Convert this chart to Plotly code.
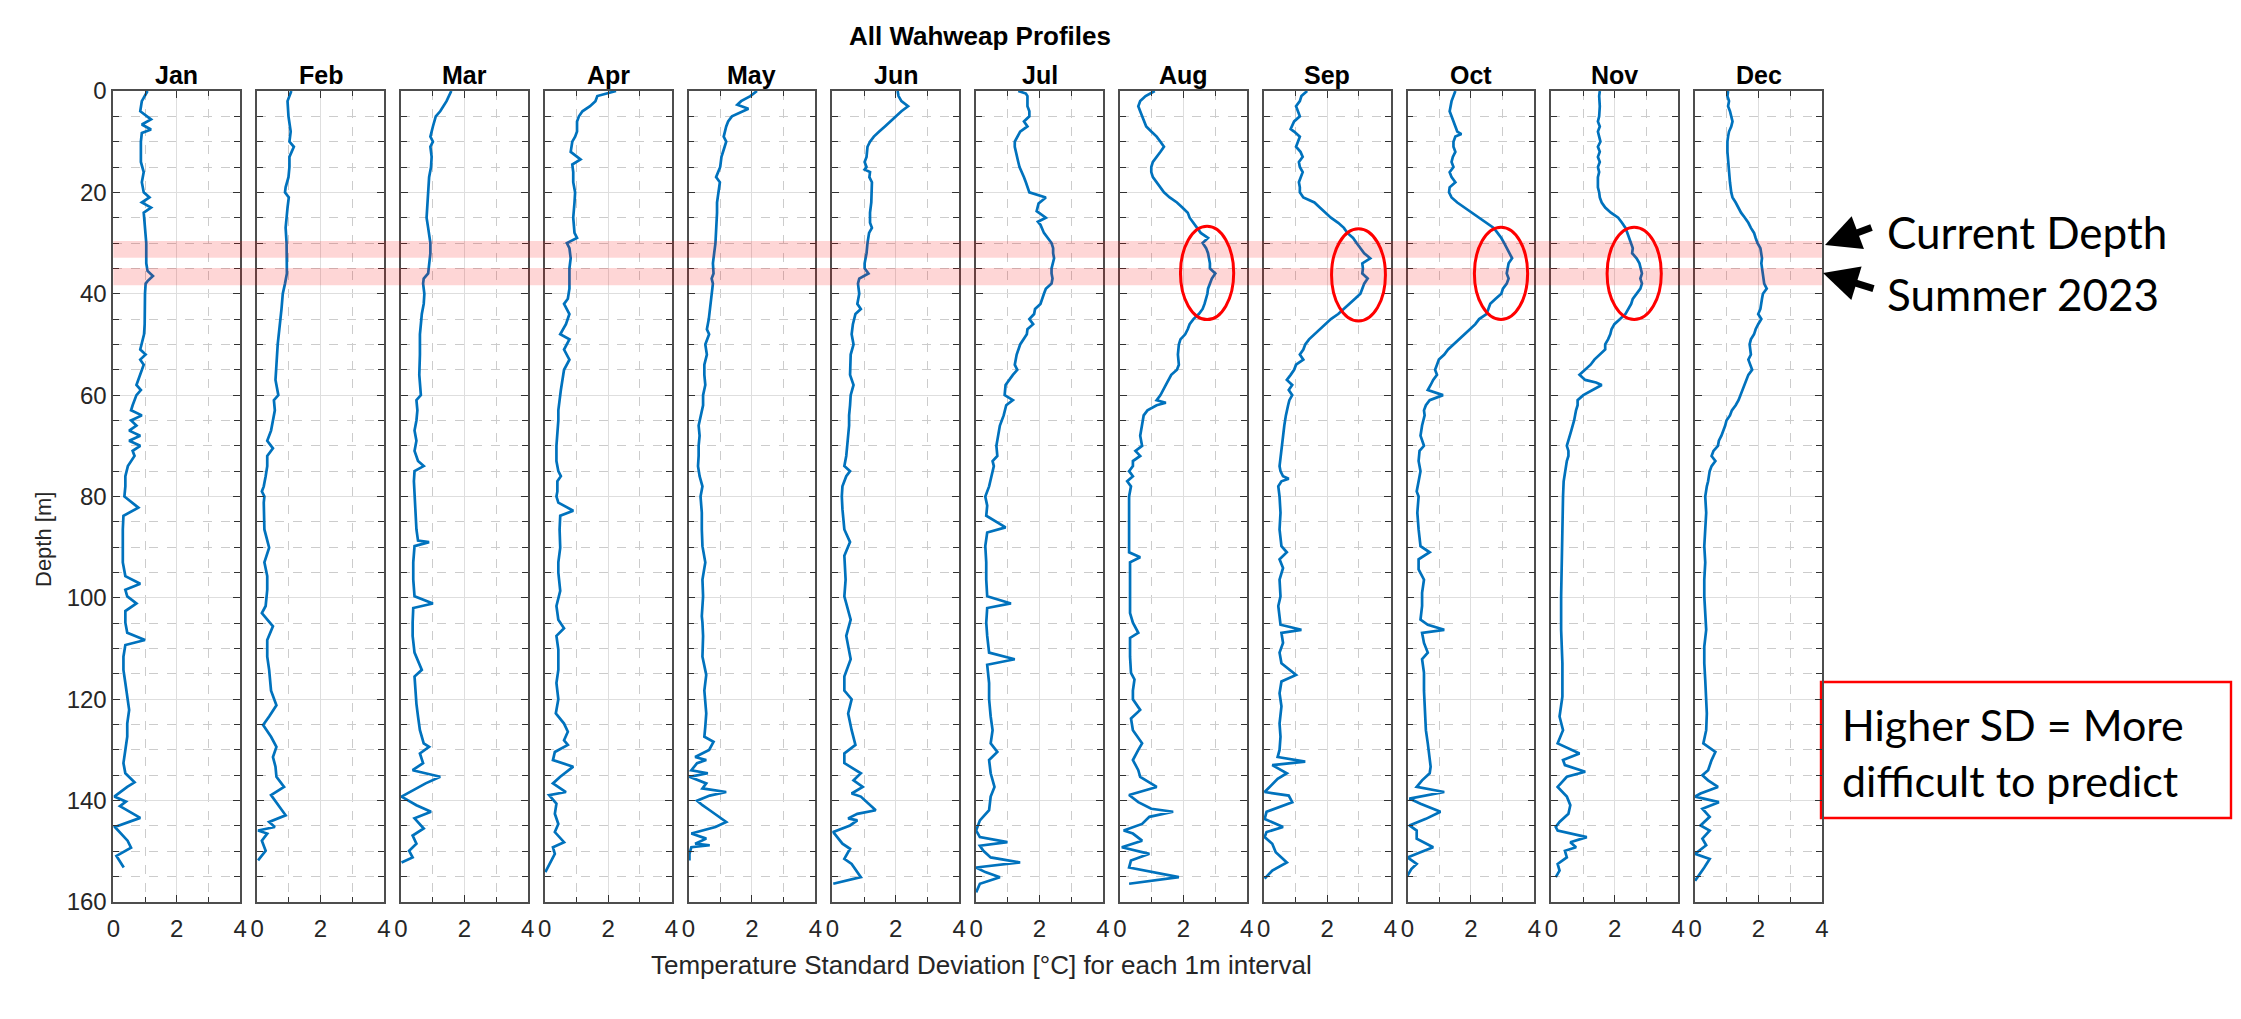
import plotly.graph_objects as go

# ---------------- data (depth in m, temperature SD in degC) ----------------
MONTHS = ["Jan", "Feb", "Mar", "Apr", "May", "Jun", "Jul", "Aug", "Sep", "Oct", "Nov", "Dec"]

JAN_DEPTH = [0,2,4,5.6,6.6,7.6,8.3,10,12,14,16,18,20,21,22,23,24,26,28,30,32,34,35.5,36.5,37.5,38,40,42,44,46,48,50,51,52,53,54,56,58,59,60,62,63,64,65,66,67,68,69,70,71,72,74,76,78,80,82.2,83.8,86.5,89.8,93,95.7,97.2,98.4,99.7,101.1,102.6,104.9,106.9,108.3,109.3,111.6,114.2,116.8,119.5,122.1,124.8,127.4,130,132.6,134.6,136.4,137.3,139.2,140.2,141.1,143.4,145.2,147.9,149.3,150.9,153.2]
JAN_SD = [1.08,0.90,0.85,1.19,0.90,1.19,0.90,0.87,0.87,0.87,0.96,0.90,0.96,1.14,0.90,1.19,0.96,0.99,1.00,1.04,1.04,1.04,1.08,1.25,1.08,1.02,1.00,1.00,1.00,0.99,0.97,0.90,0.85,1.02,0.85,0.96,0.85,0.73,0.87,0.73,0.61,0.56,0.90,0.56,0.73,0.50,0.85,0.50,0.85,0.61,0.67,0.46,0.38,0.38,0.35,0.79,0.32,0.30,0.30,0.30,0.38,0.85,0.38,0.44,0.73,0.38,0.38,0.44,1.00,0.38,0.32,0.32,0.38,0.44,0.50,0.44,0.44,0.38,0.32,0.38,0.67,0.44,0.03,0.40,0.21,0.85,0.05,0.45,0.56,0.10,0.33]

FEB_DEPTH = [0,2,5,8,10,11,13,15,17,19,20,21,23,25,27,30,33,36,38,40,43,46,50,54,57,60,61,63,65,67,69,70.5,72,74,76,78,79,80,81.2,83.8,86.5,90.1,93,95.7,98.4,101.6,103,105.6,108.3,111.6,114.2,118.3,121.2,123.4,125.1,127.4,129.4,131.4,133.3,135.3,137.3,138.9,140.9,142.9,144.2,145.2,145.9,146.5,147.9,149.9,151.8]
FEB_SD = [1.08,0.96,0.99,1.06,1.02,1.16,1.02,1.02,0.99,0.90,0.88,1.00,0.96,0.94,0.90,0.93,0.93,0.94,0.88,0.81,0.77,0.71,0.65,0.61,0.58,0.67,0.53,0.56,0.50,0.44,0.32,0.50,0.32,0.32,0.27,0.21,0.15,0.23,0.21,0.23,0.23,0.38,0.23,0.32,0.32,0.27,0.15,0.50,0.32,0.32,0.38,0.44,0.61,0.38,0.19,0.44,0.61,0.50,0.58,0.61,0.85,0.44,0.67,0.90,0.38,0.56,0.03,0.32,0.15,0.27,0.03]

MAR_DEPTH = [0,2,4,5,7,9,10,11,13,15,17,19,21,23,25,27,30,32,34,36,37,38,40,42,44,46,48,52,56,60,61,63,65,67,69,71,73,74,75,77,80,83.2,86.5,88.7,89,89.8,93,96.4,99.7,101.1,102,104.9,107.5,110.8,114.2,115.5,118.3,120.9,123.4,126.1,128.7,129.4,130.7,132.6,134,135.3,136.6,139.2,140.9,142.2,143.5,145.5,146.9,148.5,149.9,151.2,152.2]
MAR_SD = [1.59,1.44,1.24,1.10,1.01,0.93,1.01,0.93,0.97,0.95,0.89,0.87,0.83,0.81,0.81,0.86,0.93,0.93,0.89,0.86,0.72,0.70,0.74,0.72,0.66,0.63,0.60,0.60,0.58,0.63,0.49,0.52,0.49,0.43,0.49,0.43,0.54,0.72,0.43,0.41,0.43,0.46,0.49,0.54,0.89,0.43,0.39,0.39,0.43,1.01,0.39,0.37,0.37,0.43,0.66,0.43,0.46,0.49,0.54,0.60,0.72,0.89,0.60,0.70,0.37,1.24,0.78,0.02,0.49,0.95,0.43,0.72,0.37,0.49,0.26,0.37,0.02]

APR_DEPTH = [0,0.5,1,2,3,4,5,6,8,9,10,12,13.5,14.5,16,18,20,22,25,28,29,30,31,33,35,37,39,41,42,44,46,48,49,51,53,55,57,59,61,63,65,67,70,73,75,76,77,79,80,81.2,82.8,83.8,86.5,90.1,93,95,98.6,101.6,104.3,106,107.5,110.2,114.2,116.8,120,122.8,124.8,126.4,128.1,129,130.4,132,133.3,135.3,136.6,138.3,138.9,140.6,142.6,144.6,146.2,148.2,149.2,150.5,152.5,154.1]
APR_SD = [2.25,1.95,1.66,1.60,1.43,1.19,1.08,1.02,1.02,0.96,0.87,0.82,1.13,0.87,0.90,0.90,0.96,0.94,0.90,0.94,1.02,0.70,0.78,0.82,0.78,0.78,0.78,0.73,0.61,0.78,0.67,0.49,0.78,0.61,0.78,0.61,0.55,0.51,0.47,0.43,0.43,0.40,0.37,0.37,0.43,0.51,0.40,0.40,0.37,0.43,0.90,0.49,0.47,0.49,0.43,0.43,0.49,0.37,0.43,0.61,0.37,0.43,0.43,0.37,0.43,0.35,0.61,0.73,0.61,0.73,0.32,0.26,0.90,0.49,0.26,0.67,0.14,0.37,0.32,0.43,0.32,0.61,0.26,0.32,0.14,0.02]

MAY_DEPTH = [0,1,2,2.7,3.5,4.2,5,6,7,9,10,11,13,15,17,18,20,22,24,26,28,30,32,34,36,37,38,40,42,44,45,47,48,50,52,54,56,58,60,62,64,66,68,70,72,74,76,78,80,83.2,86.5,89.8,93,96.4,99.7,103.6,104.9,107.5,111.6,115.2,118.3,120,122.8,125.4,127.4,128.4,130,131.4,132,132.6,134,134.6,135.3,136.6,137.6,138.3,139,140,140.9,141.9,144.2,145.2,146.5,147.5,148.5,148.8,149.2,150.5,151.8]
MAY_SD = [2.16,1.95,1.66,1.54,1.89,1.66,1.37,1.25,1.19,1.11,1.19,1.14,1.04,1.00,0.87,0.99,0.94,0.90,0.90,0.88,0.88,0.85,0.81,0.77,0.79,0.73,0.77,0.73,0.70,0.67,0.64,0.58,0.65,0.53,0.58,0.50,0.50,0.53,0.46,0.46,0.38,0.32,0.35,0.32,0.32,0.30,0.35,0.44,0.38,0.42,0.42,0.44,0.53,0.44,0.46,0.42,0.44,0.46,0.44,0.56,0.50,0.52,0.56,0.53,0.50,0.79,0.65,0.21,0.56,0.27,0.09,0.61,0.03,0.56,0.44,1.19,0.67,0.27,0.44,0.67,1.19,0.85,0.09,0.56,0.21,0.67,0.09,0.03,0.03]

JUN_DEPTH = [0,1,2,3,4,5,6,7,8,9,10,11,13,14,15,15.5,16,17,18,20,22,24,26,27,28,30,32,34,35,36,37,38,40,42,43,44,46,48,50,52,54,56,58,60,62,64,66,68,70,72,74,75,76,78,80,82.5,86.5,89,91.7,96.4,99.7,104.3,107.5,112.1,115.5,118.3,120,122.8,126.1,129,130.7,132.6,134.6,136,137.3,138.6,139.2,141.9,142.6,143.5,143.9,144.9,146.2,148.5,149.5,151.5,152.5,155.1,156.4]
JUN_SD = [2.06,2.09,2.18,2.39,2.18,2.01,1.86,1.66,1.48,1.31,1.19,1.11,1.08,1.02,1.08,1.02,1.19,1.17,1.25,1.25,1.23,1.19,1.19,1.25,1.16,1.11,1.08,1.02,1.02,1.14,0.85,0.81,0.85,0.79,0.90,0.73,0.65,0.61,0.67,0.58,0.58,0.56,0.67,0.58,0.56,0.53,0.53,0.50,0.46,0.44,0.38,0.56,0.44,0.32,0.30,0.32,0.38,0.56,0.38,0.42,0.38,0.58,0.44,0.58,0.38,0.38,0.61,0.50,0.61,0.73,0.38,0.38,0.90,0.67,0.96,0.61,0.90,1.37,0.79,0.50,0.79,0.56,0.03,0.32,0.56,0.38,0.61,0.90,0.03]

JUL_DEPTH = [0,0.5,1,3,4,5,6,7,8,9,10,11,12,13,14,15,16,17,18,19,20,21,22.2,23.7,25,25.8,26.4,28,29,30,31,32,33,35,36,37,38,39,40,42,43,44,45,46,47,48,50,52,54,55,56,58,60,61,62,64,66,68,70,72,73,74,76,78,80,81.8,83.8,86.1,87.1,89.8,93,96.4,99.7,101.1,102,104.9,107.5,110.8,112.1,113.2,116.8,120,123.4,126.1,128.7,130.4,132,134.6,137.3,139.2,141.9,143.9,145.9,147.2,148.2,148.9,149.9,151.2,152.2,153.2,154.1,155.1,156.4,158.1]
JUL_SD = [1.33,1.57,1.62,1.62,1.68,1.68,1.51,1.62,1.39,1.30,1.22,1.22,1.25,1.30,1.33,1.37,1.45,1.51,1.57,1.62,1.68,2.20,1.97,1.91,2.20,1.95,2.03,2.14,2.26,2.38,2.43,2.43,2.46,2.38,2.38,2.41,2.38,2.20,2.14,2.03,1.86,1.83,1.68,1.80,1.62,1.60,1.39,1.28,1.22,1.30,1.16,0.93,0.90,1.16,0.95,0.87,0.75,0.70,0.64,0.67,0.52,0.56,0.49,0.41,0.29,0.35,0.32,0.93,0.35,0.29,0.32,0.32,0.35,1.10,0.35,0.32,0.35,0.41,1.22,0.35,0.41,0.41,0.46,0.52,0.46,0.67,0.41,0.46,0.58,0.46,0.41,0.12,0.00,0.12,0.99,0.12,0.23,0.46,1.39,0.00,0.29,0.75,0.12,0.00]

AUG_DEPTH = [0,1,2,3,4,5,6,7,8,9,10,11,12,13,14,15,16,17,18,19,20,21,22,23,24,25,26,27,28,29,30,31,32,33,34,35,36,37,38,39,40,41,42,43,44,45,46,47,48,49,50,52,54,55,56,58,60,61,61.5,62,63,64,66,68,70,71,72,73,74,75,76,77,78,80,83.2,86.5,89,91,92,93,96.4,99.7,103,104.9,106.9,107.9,111.6,114.8,116.1,118.3,120,122.1,123.8,126.1,128.7,130,132,134,135.3,137.3,138.3,138.9,140.3,141.6,142.2,143.2,144.6,145.9,146.5,147.9,149.2,150.5,151.8,153.2,155.1,156.4]
AUG_SD = [1.10,0.81,0.64,0.58,0.64,0.70,0.75,0.83,0.99,1.16,1.28,1.39,1.28,1.16,1.04,0.99,0.99,1.04,1.16,1.28,1.39,1.57,1.80,1.97,2.14,2.20,2.32,2.43,2.55,2.78,2.61,2.72,2.78,2.81,2.84,2.84,3.01,2.90,2.84,2.78,2.76,2.72,2.67,2.61,2.49,2.32,2.20,2.14,2.06,1.91,1.86,1.83,1.86,1.80,1.62,1.45,1.28,1.16,1.45,1.16,0.87,0.75,0.70,0.64,0.70,0.49,0.64,0.41,0.41,0.29,0.41,0.23,0.35,0.29,0.29,0.29,0.29,0.29,0.64,0.32,0.32,0.32,0.32,0.41,0.58,0.32,0.32,0.35,0.46,0.41,0.41,0.64,0.35,0.41,0.70,0.58,0.41,0.58,0.64,1.16,0.64,0.29,0.58,0.99,1.68,0.93,0.70,0.12,0.41,0.70,0.06,0.93,0.35,0.29,1.86,0.29]

SEP_DEPTH = [0,1,2,3,4,5,6,7,7.5,8,9,10,11,12,13,14,15,16,17,18,19,20,21,21.5,22,23,24,25,26,27,28,29,30,31,32,33,34,35,36,37,38,39,40,41,42,43,44,45,46,47,48,49,50,51,52,53,54,55,56,57,58,59,60,61,62,63,64,66,68,70,72,74,75,76,76.5,77,78,80,83.2,86.5,89.8,91,92.4,94.1,96.4,99.7,101.6,105.3,106.3,106.9,108.9,110.8,112.9,115.2,116.5,118.8,121.4,124.8,127.4,130,131.4,132.3,133,134.6,135.7,138.3,139,140.3,142.2,143.6,145.2,146.2,147.2,148.5,150.2,152.2,153.8,155.4]
SEP_SD = [1.37,1.19,1.14,1.02,1.08,1.14,0.96,0.90,0.85,0.96,1.14,1.08,1.02,1.16,1.23,1.11,1.14,1.23,1.16,1.11,1.14,1.14,1.25,1.43,1.60,1.77,1.95,2.12,2.35,2.53,2.64,2.82,2.93,3.05,3.17,3.36,3.11,3.13,3.11,3.28,3.17,3.11,3.05,2.88,2.70,2.53,2.35,2.12,1.95,1.77,1.60,1.43,1.31,1.25,1.14,1.25,1.02,0.96,0.85,0.73,0.90,0.79,0.90,0.81,0.77,0.73,0.70,0.65,0.61,0.58,0.53,0.50,0.53,0.61,0.79,0.56,0.46,0.50,0.53,0.50,0.56,0.73,0.50,0.61,0.50,0.53,0.46,0.53,1.19,0.56,0.61,0.50,0.56,1.02,0.56,0.50,0.56,0.50,0.53,0.50,0.44,1.31,0.27,0.73,0.44,0.03,0.79,0.90,0.09,0.03,0.61,0.09,0.03,0.27,0.38,0.73,0.27,0.03]

OCT_DEPTH = [0,1,2,3,4,5,6,7,8,8.5,9,10,11,12,13,14,15,16,17,18,19,20,21,22,23,24,25,26,27,28,29,30,31,32,33,34,35,36,37,38,39,40,41,42,43,44,45,46,47,48,49,50,51,52,53,54,55,56,57,58,59,60,61,62,63,64,66,68,70,71,73,75,77,79,80,83.2,86.5,89.8,91,92.4,94.4,96.4,99,101.6,104.3,105.3,106.3,106.9,108.9,110.8,112.1,114.8,118.3,120.9,123.4,126.1,128.7,131.4,133.3,134.6,136,137.3,138.3,139.6,140.6,142.2,143.6,144.9,145.9,147.5,149.2,150.2,151.2,152.5,153.5,154.8]
OCT_SD = [1.51,1.45,1.39,1.36,1.33,1.39,1.45,1.51,1.57,1.70,1.51,1.45,1.45,1.51,1.43,1.39,1.45,1.33,1.39,1.51,1.33,1.31,1.39,1.57,1.80,2.03,2.26,2.49,2.72,2.84,2.96,3.05,3.13,3.21,3.30,3.19,3.17,3.13,3.19,3.13,3.01,2.96,2.78,2.61,2.55,2.49,2.26,2.14,1.97,1.80,1.62,1.45,1.28,1.16,0.99,0.93,0.87,0.93,0.81,0.73,0.64,1.12,0.70,0.58,0.52,0.54,0.46,0.41,0.52,0.38,0.35,0.41,0.35,0.29,0.35,0.31,0.35,0.41,0.70,0.35,0.35,0.52,0.46,0.46,0.41,0.64,1.16,0.46,0.52,0.64,0.46,0.52,0.52,0.54,0.54,0.58,0.64,0.70,0.73,0.70,0.46,0.29,1.16,0.06,0.41,1.04,0.58,0.06,0.29,0.29,0.81,0.41,0.00,0.29,0.12,0.00]

NOV_DEPTH = [0,1,3,5,6,7,8,9,10,11,12,13,14,15,16,17,18,19,20,21,22,23,24,25,26,27,28,29,30,31,32,33,34,35,36,37,38,39,40,41,42,43,44,45,46,47,48,49,50,51,52,53,54,55,56,57,57.5,58,59,60,61,62,63,65,67,69,70,71,72,73,75,77,80,86.5,93,99.7,106.3,112.9,119.5,123.4,126.1,128.7,130.7,132,133,134.3,135.3,137.3,139.2,140.9,142.6,144.2,145.2,145.9,147.2,148.2,149.2,149.9,151.2,152.5,153.8,155.1]
NOV_SD = [1.53,1.51,1.53,1.51,1.47,1.53,1.47,1.51,1.55,1.47,1.53,1.47,1.53,1.47,1.51,1.47,1.47,1.47,1.51,1.53,1.59,1.70,1.88,2.11,2.23,2.34,2.40,2.46,2.52,2.57,2.55,2.69,2.78,2.83,2.86,2.81,2.86,2.81,2.69,2.57,2.52,2.43,2.34,2.17,1.99,1.90,1.86,1.79,1.70,1.70,1.53,1.36,1.24,1.07,0.89,1.07,1.41,1.59,1.30,1.01,0.83,0.83,0.78,0.72,0.63,0.54,0.49,0.54,0.54,0.49,0.43,0.39,0.37,0.35,0.31,0.31,0.31,0.35,0.35,0.26,0.37,0.20,0.89,0.37,0.43,1.07,0.49,0.20,0.49,0.60,0.54,0.26,0.14,0.20,1.12,0.60,0.78,0.43,0.49,0.20,0.26,0.14]

DEC_DEPTH = [0,1,2,3,4,5,6,7,8,9,10,12,14,16,18,20,21,22,23,24,25,26,27,28,29,30,31,32,33,34,35,36,37,38,39,40,41,42,43,44,45,46,47,48,49,50,51,52,53,54,55,56,57,58,59,60,61,62,63,64,65,66,67,68,69,70,71,72,73,74,75,76,77,78,80,83.2,86.5,89.8,93,96.4,99.7,103,106.3,109.6,112.9,116.2,119.5,122.8,126.1,128.7,130.4,132,134,135,136,137.3,138.6,139.2,140.3,141.6,143.2,144.9,145.9,147.5,148.8,150.5,151.5,153.2,155.8]
DEC_SD = [1.04,1.02,1.07,1.04,1.10,1.14,1.18,1.14,1.07,1.04,1.02,1.02,1.04,1.07,1.10,1.14,1.18,1.28,1.37,1.45,1.57,1.68,1.76,1.86,1.91,1.97,2.06,2.09,2.11,2.09,2.11,2.14,2.14,2.18,2.26,2.14,2.11,2.09,2.06,1.99,2.09,1.99,1.91,1.86,1.76,1.72,1.74,1.76,1.68,1.74,1.80,1.68,1.62,1.57,1.51,1.45,1.37,1.28,1.16,1.10,0.99,0.95,0.90,0.83,0.75,0.72,0.58,0.52,0.64,0.52,0.46,0.44,0.41,0.37,0.32,0.35,0.32,0.29,0.32,0.29,0.29,0.32,0.35,0.29,0.29,0.32,0.35,0.37,0.35,0.26,0.64,0.52,0.41,0.23,0.41,0.72,0.17,0.00,0.75,0.23,0.46,0.17,0.46,0.23,0.35,0.00,0.46,0.29,0.00]

DEPTHS = [JAN_DEPTH, FEB_DEPTH, MAR_DEPTH, APR_DEPTH, MAY_DEPTH, JUN_DEPTH,
          JUL_DEPTH, AUG_DEPTH, SEP_DEPTH, OCT_DEPTH, NOV_DEPTH, DEC_DEPTH]
SDS = [JAN_SD, FEB_SD, MAR_SD, APR_SD, MAY_SD, JUN_SD,
       JUL_SD, AUG_SD, SEP_SD, OCT_SD, NOV_SD, DEC_SD]
for m, d, s in zip(MONTHS, DEPTHS, SDS):
    assert len(d) == len(s), (m, len(d), len(s))

X_TICKS = [0, 2, 4]
X_TICK_LABELS = ["0", "2", "4"]
Y_TICKS = [0, 20, 40, 60, 80, 100, 120, 140, 160]

# highlighted depth bands (m) and circled months (x range degC, depth range m)
BANDS = [(29.6, 32.9), (34.9, 38.3)]
CIRCLES = {"Aug": (1.91, 3.59, 26.7, 45.1), "Sep": (2.14, 3.84, 27.2, 45.4),
           "Oct": (2.11, 3.79, 26.9, 45.1), "Nov": (1.76, 3.47, 26.9, 45.1)}

TITLE = "All Wahweap Profiles"
X_TITLE = "Temperature Standard Deviation [°C] for each 1m interval"
Y_TITLE = "Depth [m]"

# ---------------- layout helpers ----------------
W, H = 2241, 1019
LEFT0, PITCH, PW = 113.3, 143.8, 126.8
YTOP, YBOT = 91, 902
FONT = "Liberation Sans, Arial, Helvetica, sans-serif"
TXT = "#262626"
NAVY = "#06305a"


def px(x):
    return x / W


def py(y):
    return 1 - y / H


fig = go.Figure()
ydom = [py(YBOT), py(YTOP)]

# white slide area inside the navy frame (paper background is navy)
fig.add_shape(type="rect", xref="paper", yref="paper", x0=px(6), x1=px(2236),
              y0=0, y1=py(7), fillcolor="white", line=dict(width=0), layer="below")

for i, m in enumerate(MONTHS):
    sfx = "" if i == 0 else str(i + 1)
    l = LEFT0 + i * PITCH
    fig.add_trace(go.Scatter(x=SDS[i], y=DEPTHS[i], mode="lines",
                             line=dict(color="#0072BD", width=2.7),
                             xaxis="x" + sfx, yaxis="y" + sfx,
                             showlegend=False, hoverinfo="skip"))
    common = dict(showline=True, linecolor="#4d4d4d", linewidth=1.6, mirror="ticks",
                  ticks="inside", tickcolor="#333333", tickwidth=1.4, automargin=False,
                  showgrid=True, gridcolor="#dedede", gridwidth=1.2, zeroline=False,
                  tickfont=dict(family=FONT, size=24, color=TXT))
    fig.layout["xaxis" + sfx] = dict(
        domain=[px(l), px(l + PW)], anchor="y" + sfx, range=[0, 4],
        tickmode="array", tickvals=X_TICKS, ticktext=X_TICK_LABELS, ticklen=7,
        ticklabelstandoff=4,
        minor=dict(tickmode="array", tickvals=[1, 3], showgrid=True, griddash="dash",
                   gridcolor="#cccccc", gridwidth=1.2, ticks="inside", ticklen=5,
                   tickcolor="#333333"),
        **common)
    fig.layout["yaxis" + sfx] = dict(
        domain=ydom, anchor="x" + sfx, range=[160, 0],
        tickmode="array", tickvals=Y_TICKS, showticklabels=(i == 0), ticklen=7,
        minor=dict(dtick=5, tick0=0, showgrid=True, griddash="dash",
                   gridcolor="#cccccc", gridwidth=1.2, ticks="inside", ticklen=6,
                   tickcolor="#333333"),
        **common)
    # month heading
    fig.add_annotation(x=px(l + PW / 2), y=py(75), xref="paper", yref="paper",
                       text="<b>%s</b>" % m, showarrow=False, xanchor="center",
                       yanchor="middle", font=dict(family=FONT, size=25, color="#000000"))
    if m in CIRCLES:
        x0, x1, y0, y1 = CIRCLES[m]
        fig.add_shape(type="circle", xref="x" + sfx, yref="y" + sfx,
                      x0=x0, x1=x1, y0=y0, y1=y1,
                      line=dict(color="#ff0000", width=3), layer="above")

# pink depth bands across all panels
for b0, b1 in BANDS:
    fig.add_shape(type="rect", xref="paper", yref="y",
                  x0=px(LEFT0), x1=px(LEFT0 + 11 * PITCH + PW), y0=b0, y1=b1,
                  fillcolor="rgba(250,0,0,0.16)", line=dict(width=0), layer="above")

# titles
fig.add_annotation(x=px(980), y=py(36), xref="paper", yref="paper", text="<b>%s</b>" % TITLE,
                   showarrow=False, xanchor="center", yanchor="middle",
                   font=dict(family=FONT, size=26, color="#000000"))
fig.add_annotation(x=px(981), y=py(965), xref="paper", yref="paper", text=X_TITLE,
                   showarrow=False, xanchor="center", yanchor="middle",
                   font=dict(family=FONT, size=26, color=TXT))
fig.add_annotation(x=px(43), y=py(540), xref="paper", yref="paper", text=Y_TITLE,
                   textangle=-90, showarrow=False, xanchor="center", yanchor="middle",
                   font=dict(family=FONT, size=22, color=TXT))

# right-hand notes
NOTE_FONT = dict(family="Lato, Carlito, Calibri, sans-serif", size=44, color="#000000")
fig.add_annotation(x=px(1885), y=py(232), xref="paper", yref="paper", text="Current Depth",
                   showarrow=False, xanchor="left", yanchor="middle", font=NOTE_FONT)
fig.add_annotation(x=px(1885), y=py(294), xref="paper", yref="paper", text="Summer 2023",
                   showarrow=False, xanchor="left", yanchor="middle", font=NOTE_FONT)
fig.add_annotation(x=px(1825), y=py(245), xref="paper", yref="paper", text="",
                   showarrow=True, ax=48, ay=-18, arrowhead=2, arrowsize=1,
                   arrowwidth=7, arrowcolor="#000000", standoff=0)
fig.add_annotation(x=px(1823), y=py(273), xref="paper", yref="paper", text="",
                   showarrow=True, ax=52, ay=16, arrowhead=2, arrowsize=1,
                   arrowwidth=7, arrowcolor="#000000", standoff=0)

fig.add_shape(type="rect", xref="paper", yref="paper", x0=px(1821), x1=px(2231),
              y0=py(818), y1=py(682), line=dict(color="#ff0000", width=2.4),
              fillcolor="white", layer="below")
fig.add_annotation(x=px(1840), y=py(752), xref="paper", yref="paper",
                   text="Higher SD = More<br>difficult to predict",
                   showarrow=False, xanchor="left", yanchor="middle", align="left",
                   font=dict(family="Lato, Carlito, Calibri, sans-serif", size=43, color="#000000"))

# navy frame (top, left, right) drawn on top as well
for (a, b, c, d) in [(0, W, 0, 7), (0, 6, 0, H), (2236, W, 0, H)]:
    fig.add_shape(type="rect", xref="paper", yref="paper", x0=px(a), x1=px(b),
                  y0=py(d), y1=py(c), fillcolor=NAVY, line=dict(width=0), layer="above")

# size is given through the div (full-bleed page, cancelling the body margin)
fig.update_layout(template="none", autosize=True,
                  margin=dict(l=0, r=0, t=0, b=0, pad=0, autoexpand=False),
                  paper_bgcolor=NAVY, plot_bgcolor="white", showlegend=False)

fig.write_html("out.html", config={"displayModeBar": False},
               default_width="%dpx; margin:-8px" % W, default_height="%dpx" % H)
